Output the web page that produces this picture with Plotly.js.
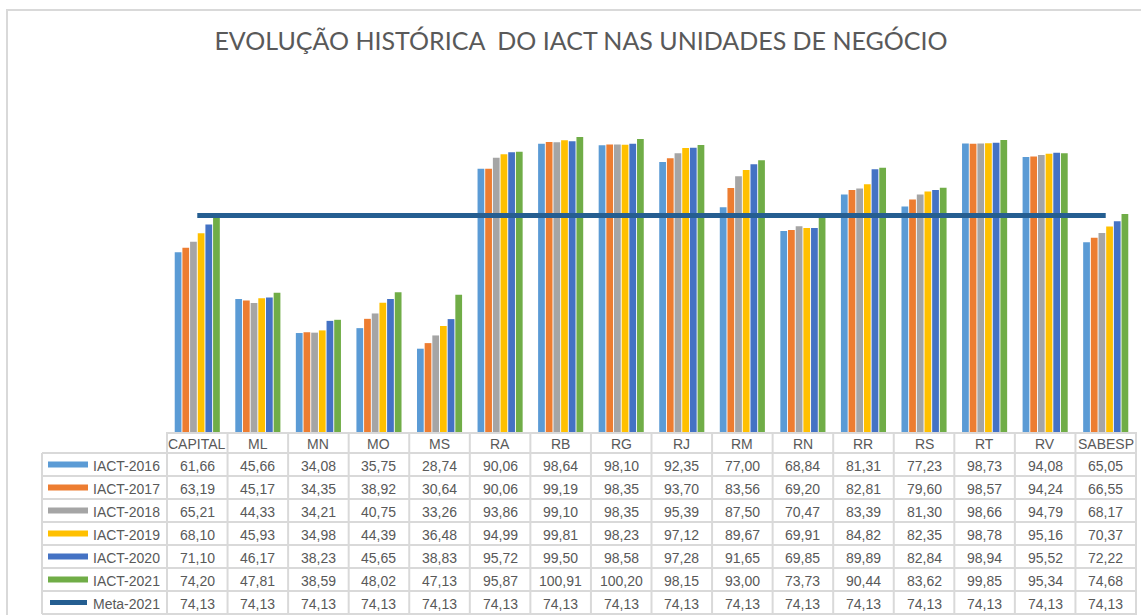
<!DOCTYPE html>
<html>
<head>
<meta charset="utf-8">
<script src="https://cdn.plot.ly/plotly-3.0.1.min.js"></script>
<style>html,body{margin:0;padding:0;background:#fff;}#chart{width:1141px;height:615px;}</style>
</head>
<body>
<div id="chart"></div>
<script>
// ---- data ----
const categories = ["CAPITAL","ML","MN","MO","MS","RA","RB","RG","RJ","RM","RN","RR","RS","RT","RV","SABESP"];
const iact2016 = [61.66,45.66,34.08,35.75,28.74,90.06,98.64,98.10,92.35,77.00,68.84,81.31,77.23,98.73,94.08,65.05];
const iact2017 = [63.19,45.17,34.35,38.92,30.64,90.06,99.19,98.35,93.70,83.56,69.20,82.81,79.60,98.57,94.24,66.55];
const iact2018 = [65.21,44.33,34.21,40.75,33.26,93.86,99.10,98.35,95.39,87.50,70.47,83.39,81.30,98.66,94.79,68.17];
const iact2019 = [68.10,45.93,34.98,44.39,36.48,94.99,99.81,98.23,97.12,89.67,69.91,84.82,82.35,98.78,95.16,70.37];
const iact2020 = [71.10,46.17,38.23,45.65,38.83,95.72,99.50,98.58,97.28,91.65,69.85,89.89,82.84,98.94,95.52,72.22];
const iact2021 = [74.20,47.81,38.59,48.02,47.13,95.87,100.91,100.20,98.15,93.00,73.73,90.44,83.62,99.85,95.34,74.68];
const meta2021 = [74.13,74.13,74.13,74.13,74.13,74.13,74.13,74.13,74.13,74.13,74.13,74.13,74.13,74.13,74.13,74.13];
const seriesNames = ["IACT-2016","IACT-2017","IACT-2018","IACT-2019","IACT-2020","IACT-2021","Meta-2021"];
const titleText = "EVOLUÇÃO HISTÓRICA  DO IACT NAS UNIDADES DE NEGÓCIO";

// ---- styling ----
const barSeries = [iact2016, iact2017, iact2018, iact2019, iact2020, iact2021];
const colors = ["#5b9bd5","#ed7d31","#a5a5a5","#ffc000","#4472c4","#70ad47"];
const metaColor = "#255e91";
const W = 1141, H = 615;
const M = {l:166, r:4, t:81, b:182};
const plotW = W - M.l - M.r, plotH = H - M.t - M.b;
const px2x = px => (px - M.l) / plotW;
const py2y = py => (H - M.b - py) / plotH;
const gridCol = "#d9d9d9";
const textCol = "#595959";
const tfont = {family:"Liberation Sans, Arial, sans-serif", size:14, color:textCol};

const traces = barSeries.map((vals, i) => ({
  type:"bar", name:seriesNames[i], x:categories, y:vals,
  marker:{color:colors[i], line:{width:0}}, hoverinfo:"skip"
}));
traces.push({
  type:"scatter", mode:"lines", name:seriesNames[6], x:categories, y:meta2021,
  line:{color:metaColor, width:5}, hoverinfo:"skip"
});

// ---- table ----
const shapes = [];
const annotations = [];
const headerTop = H - M.b, headerBot = 453;
const rowH = 23;
const tableBot = headerBot + rowH * 7;
const leftX = 42;
for (let k = 0; k <= categories.length; k++) {
  shapes.push({type:"line", xref:"x", yref:"paper", x0:k-0.5, x1:k-0.5,
    y0:py2y(headerTop), y1:py2y(tableBot), line:{color:gridCol, width:2}});
}
shapes.push({type:"line", xref:"paper", yref:"paper", x0:px2x(leftX), x1:px2x(leftX),
  y0:py2y(headerBot), y1:py2y(tableBot), line:{color:gridCol, width:2}});
shapes.push({type:"line", xref:"paper", yref:"paper", x0:0, x1:1,
  y0:py2y(headerTop), y1:py2y(headerTop), line:{color:gridCol, width:2}});
for (let r = 0; r <= 7; r++) {
  const py = headerBot + r*rowH;
  shapes.push({type:"line", xref:"paper", yref:"paper", x0:px2x(leftX), x1:1,
    y0:py2y(py), y1:py2y(py), line:{color:gridCol, width:2}});
}
categories.forEach(c => {
  annotations.push({xref:"x", yref:"paper", x:c, y:py2y((headerTop+headerBot)/2 + 1),
    text:c, showarrow:false, font:tfont, xanchor:"center", yanchor:"middle"});
});
const rows = [iact2016, iact2017, iact2018, iact2019, iact2020, iact2021, meta2021];
rows.forEach((vals, r) => {
  const cy = headerBot + r*rowH + rowH/2 + 1;
  vals.forEach((v, k) => {
    annotations.push({xref:"x", yref:"paper", x:categories[k], y:py2y(cy),
      text:v.toFixed(2).replace(".", ","), showarrow:false, font:tfont,
      xanchor:"center", yanchor:"middle"});
  });
  annotations.push({xref:"paper", yref:"paper", x:px2x(91), y:py2y(cy),
    text:seriesNames[r], showarrow:false, font:tfont, xanchor:"left", yanchor:"middle"});
  const kc = headerBot + r*rowH + rowH/2;
  if (r < 6) {
    shapes.push({type:"rect", xref:"paper", yref:"paper", x0:px2x(48), x1:px2x(88),
      y0:py2y(kc-3), y1:py2y(kc+3), fillcolor:colors[r], line:{width:0}});
  } else {
    shapes.push({type:"line", xref:"paper", yref:"paper", x0:px2x(50), x1:px2x(87),
      y0:py2y(kc), y1:py2y(kc), line:{color:metaColor, width:5}});
  }
});
shapes.push({type:"rect", xref:"paper", yref:"paper", x0:px2x(7), x1:px2x(1160),
  y0:py2y(640), y1:py2y(10), line:{color:gridCol, width:2}, fillcolor:"rgba(0,0,0,0)"});

const layout = {
  width:W, height:H, margin:M,
  paper_bgcolor:"#fff", plot_bgcolor:"#fff",
  showlegend:false,
  barmode:"group", bargap:0.24, bargroupgap:0.12,
  title:{text:titleText, x:581/W, xref:"container", xanchor:"center",
    y:1-41/H, yref:"container", yanchor:"middle",
    font:{family:"Lato, sans-serif", size:25, color:textCol}},
  xaxis:{type:"category", showticklabels:false, showgrid:false, zeroline:false, showline:false, ticks:"", fixedrange:true},
  yaxis:{range:[0,120], showticklabels:false, showgrid:false, zeroline:false, showline:false, ticks:"", fixedrange:true},
  shapes:shapes, annotations:annotations
};
Plotly.newPlot("chart", traces, layout, {displayModeBar:false, staticPlot:true});
</script>
</body>
</html>
